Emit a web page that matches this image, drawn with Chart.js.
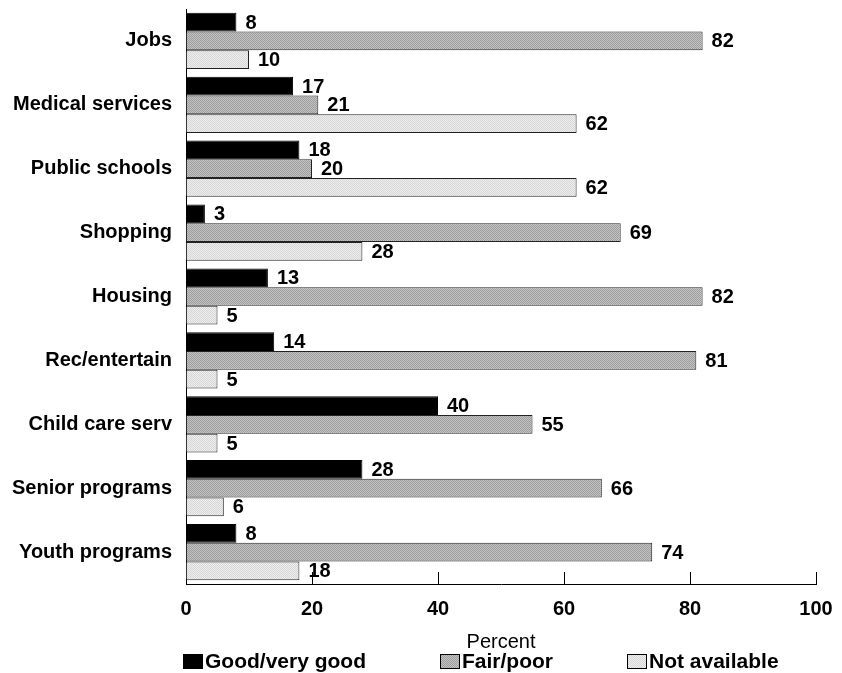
<!DOCTYPE html>
<html>
<head>
<meta charset="utf-8">
<script src="https://cdn.jsdelivr.net/npm/chart.js@4/dist/chart.umd.min.js"></script>
<style>
  body { margin: 0; background: #fff; }
  #wrap { width: 842px; height: 673px; position: relative; }
</style>
</head>
<body>
<div id="wrap"><canvas id="chart"></canvas></div>
<script>
// categories and values (percent)
const categories = ['Jobs', 'Medical services', 'Public schools', 'Shopping', 'Housing',
                    'Rec/entertain', 'Child care serv', 'Senior programs', 'Youth programs'];
const goodVeryGood = [8, 17, 18, 3, 13, 14, 40, 28, 8];
const fairPoor     = [82, 21, 20, 69, 82, 81, 55, 66, 74];
const notAvailable = [10, 62, 62, 28, 5, 5, 5, 6, 18];
const xTicks = [0, 20, 40, 60, 80, 100];

const FONT = "'Liberation Sans', Arial, sans-serif";

// fine dither fills like the original print style
function makePattern(a, b) {
    const c = document.createElement('canvas');
    c.width = 2; c.height = 2;
    const g = c.getContext('2d');
    g.fillStyle = a;
    g.fillRect(0, 0, 2, 2);
    g.fillStyle = b;
    g.fillRect(0, 0, 1, 1);
    g.fillRect(1, 1, 1, 1);
    return g.createPattern(c, 'repeat');
}
const fairFill = makePattern('#c4c4c4', '#9c9c9c');
const naFill = makePattern('#eeeeee', '#d6d6d6');

// value labels at the end of each bar
const valueLabels = {
    id: 'valueLabels',
    afterDatasetsDraw(chart) {
        const ctx = chart.ctx;
        ctx.save();
        ctx.font = 'bold 20px ' + FONT;
        ctx.fillStyle = '#000';
        ctx.textBaseline = 'middle';
        ctx.textAlign = 'left';
        chart.data.datasets.forEach((ds, i) => {
            chart.getDatasetMeta(i).data.forEach((bar, j) => {
                ctx.fillText(ds.data[j], bar.x + 9, bar.y + 1);
            });
        });
        ctx.restore();
    }
};

// tick marks pointing up from the x axis
const upTicks = {
    id: 'upTicks',
    afterDraw(chart) {
        const ctx = chart.ctx;
        const xs = chart.scales.x;
        const bottom = chart.chartArea.bottom;
        ctx.save();
        ctx.strokeStyle = '#000';
        ctx.lineWidth = 1;
        xTicks.slice(1).forEach(v => {
            const px = Math.round(xs.getPixelForValue(v)) + 0.5;
            ctx.beginPath();
            ctx.moveTo(px, bottom);
            ctx.lineTo(px, bottom - 12);
            ctx.stroke();
        });
        ctx.restore();
    }
};

// legend row under the axis title
const bottomLegend = {
    id: 'bottomLegend',
    afterDraw(chart) {
        const ctx = chart.ctx;
        const y = chart.height - 11;
        let x = chart.chartArea.left - 3;
        ctx.save();
        ctx.font = 'bold 21px ' + FONT;
        ctx.textBaseline = 'middle';
        chart.data.datasets.forEach(ds => {
            ctx.fillStyle = ds.backgroundColor;
            ctx.fillRect(x, y - 8, 20, 15);
            ctx.strokeStyle = '#000';
            ctx.lineWidth = 1;
            ctx.strokeRect(x + 0.5, y - 7.5, 19, 14);
            ctx.fillStyle = '#000';
            ctx.fillText(ds.label, x + 22, y);
            x += 22 + ctx.measureText(ds.label).width + 74;
        });
        ctx.restore();
    }
};

new Chart(document.getElementById('chart'), {
    type: 'bar',
    data: {
        labels: categories,
        datasets: [
            { label: 'Good/very good', data: goodVeryGood, backgroundColor: '#000',
              borderColor: '#000', borderWidth: 1 },
            { label: 'Fair/poor', data: fairPoor, backgroundColor: fairFill,
              borderColor: '#222', borderWidth: 1 },
            { label: 'Not available', data: notAvailable, backgroundColor: naFill,
              borderColor: '#222', borderWidth: 1 }
        ]
    },
    options: {
        indexAxis: 'y',
        responsive: true,
        maintainAspectRatio: false,
        animation: false,
        layout: { padding: { top: 9, right: 26, bottom: 21, left: 0 } },
        datasets: { bar: { categoryPercentage: 0.88, barPercentage: 1 } },
        plugins: {
            legend: { display: false },
            tooltip: { enabled: false }
        },
        scales: {
            x: {
                min: 0,
                max: 100,
                afterBuildTicks: (axis) => { axis.ticks = xTicks.map(v => ({ value: v })); },
                afterFit: (s) => { s.height = 68; s.paddingLeft = 0; s.paddingRight = 0; },
                grid: { display: true, drawOnChartArea: false, drawTicks: false },
                border: { display: true, color: '#000', width: 1 },
                ticks: { color: '#000', padding: 15, maxRotation: 0,
                         font: { family: FONT, size: 20, weight: 'bold', lineHeight: 1 } },
                title: { display: true, text: 'Percent', color: '#000', padding: { top: 0, bottom: 0 },
                         font: { family: FONT, size: 20, lineHeight: 1 } }
            },
            y: {
                afterFit: (s) => { s.width = 186; s.paddingTop = 0; s.paddingBottom = 0; },
                grid: { display: false, drawTicks: false },
                border: { display: true, color: '#000', width: 1 },
                ticks: { color: '#000', padding: 14, font: { family: FONT, size: 20, weight: 'bold' } }
            }
        }
    },
    plugins: [valueLabels, upTicks, bottomLegend]
});
</script>
</body>
</html>
